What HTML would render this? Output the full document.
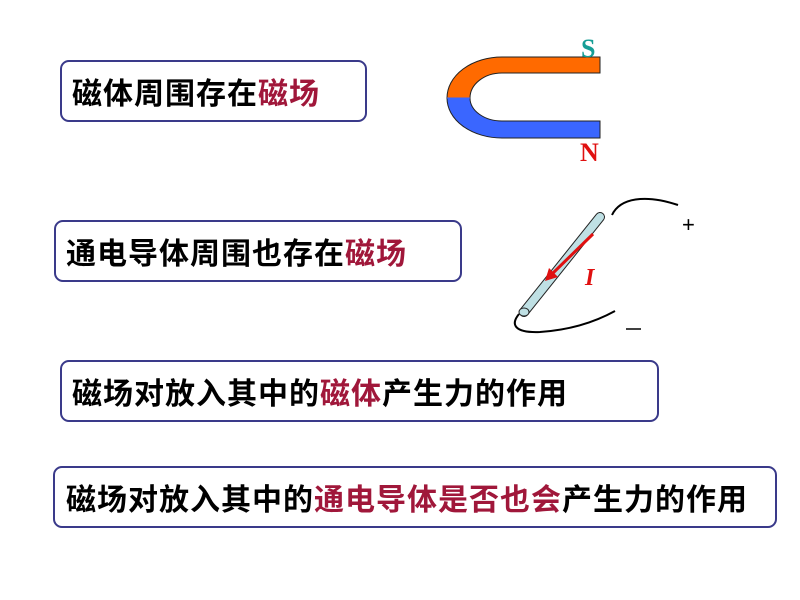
<!DOCTYPE html>
<html><head><meta charset="utf-8"><style>
html,body{margin:0;padding:0;background:#fff;}
body{width:800px;height:600px;position:relative;overflow:hidden;font-family:"Liberation Sans","Noto Sans CJK SC",sans-serif;}
.box{position:absolute;border:2px solid #3a3a8a;border-radius:9px;box-sizing:border-box;background:#fff;}
.t{position:absolute;font-size:30px;letter-spacing:1px;font-weight:bold;color:#000;white-space:nowrap;line-height:32px;}
.r{color:#a0173a;}
</style></head><body>
<div class="box" style="left:60px;top:60px;width:307px;height:62px;"></div>
<div class="t" style="left:72px;top:79px;">磁体周围存在<span class="r">磁场</span></div>
<div class="box" style="left:54px;top:220px;width:408px;height:62px;"></div>
<div class="t" style="left:66px;top:239px;">通电导体周围也存在<span class="r">磁场</span></div>
<div class="box" style="left:60px;top:360px;width:599px;height:62px;"></div>
<div class="t" style="left:72px;top:379px;">磁场对放入其中的<span class="r">磁体</span>产生力的作用</div>
<div class="box" style="left:53px;top:466px;width:724px;height:62px;"></div>
<div class="t" style="left:66px;top:485px;">磁场对放入其中的<span class="r">通电导体是否也会</span>产生力的作用</div>
<svg width="800" height="600" style="position:absolute;left:0;top:0">
<path d="M600,57 L502,57 A55,41 0 0 0 447,98 L470,98 A32,25 0 0 1 502,73 L600,73 Z" fill="#ff6a00" stroke="#222" stroke-width="1"/>
<path d="M600,138 L502,138 A55,40 0 0 1 447,98 L470,98 A32,23 0 0 0 502,121 L600,121 Z" fill="#3a66ff" stroke="#222" stroke-width="1"/>
<line x1="447" y1="98" x2="470" y2="98" stroke="#3a66ff" stroke-width="1"/>
<text x="581" y="57" font-family="Liberation Serif" font-weight="bold" font-size="26" fill="#169e96">S</text>
<text x="580" y="161" font-family="Liberation Serif" font-weight="bold" font-size="26" fill="#e01010">N</text>
<line x1="600" y1="217" x2="524" y2="312" stroke="#222" stroke-width="10" stroke-linecap="round"/>
<line x1="600" y1="217" x2="524" y2="312" stroke="#bfe0e4" stroke-width="8" stroke-linecap="round"/>
<ellipse cx="524" cy="312" rx="5" ry="4" fill="#bfe0e4" stroke="#222" stroke-width="1"/>
<line x1="593" y1="234" x2="552" y2="274" stroke="#e01010" stroke-width="3"/>
<polygon points="545,281 549,268 558,277" fill="#e01010"/>
<text x="585" y="285" font-family="Liberation Serif" font-style="italic" font-weight="bold" font-size="24" fill="#e01010">I</text>
<path d="M612,215 C620,198 645,194 678,205" fill="none" stroke="#000" stroke-width="2"/>
<path d="M519,314 C510,325 515,333 540,332 C570,330 595,322 615,311" fill="none" stroke="#000" stroke-width="2"/>
<text x="682" y="232" font-family="Liberation Sans" font-size="22" fill="#000">+</text>
<line x1="626" y1="329" x2="641" y2="329" stroke="#000" stroke-width="1.5"/>
</svg>
</body></html>
